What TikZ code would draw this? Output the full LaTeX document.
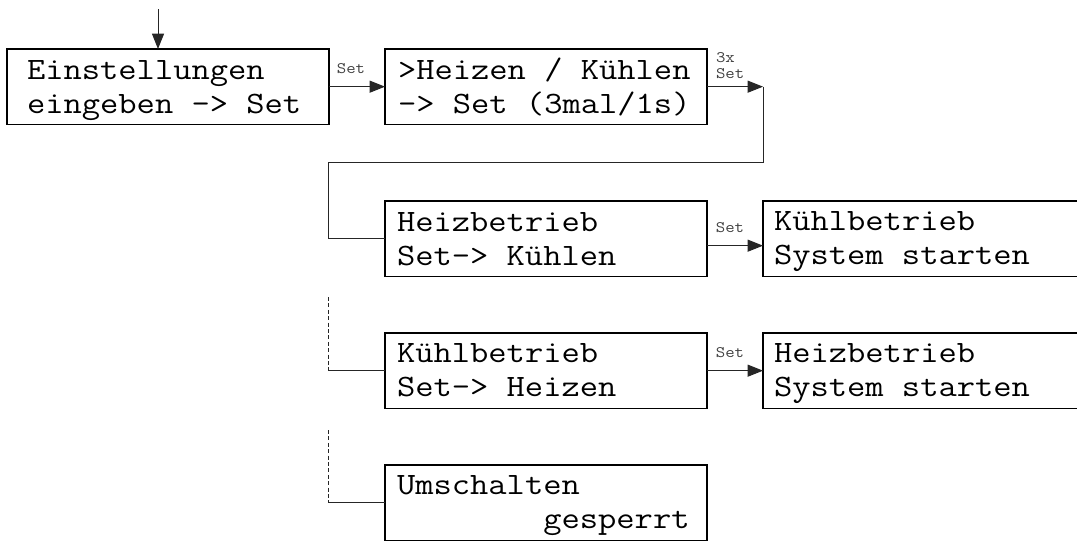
\documentclass[tikz,border=0pt]{standalone}
\usepackage{fontspec}
\setmonofont[FakeStretch=1.143]{Latin Modern Mono}
\usetikzlibrary{arrows.meta}
\tikzset{
  box/.style={draw=black, line width=0.8pt, inner sep=0pt, outer sep=0pt, anchor=north west,
    minimum width=241.5pt, minimum height=56.5pt},
  widebox/.style={box, minimum width=260pt},
  txt/.style={inner sep=0pt, outer sep=0pt, anchor=base west, align=left,
    font=\ttfamily\fontsize{23.3}{25.5}\selectfont},
  lbl/.style={inner sep=0pt, outer sep=0pt, text=black!75,
    font=\ttfamily\fontsize{12}{12}\selectfont},
  conn/.style={draw=black!85, line width=0.75pt},
  arr/.style={conn, -{Triangle[length=11.5pt,width=9pt]}},
  dconn/.style={conn, dash pattern=on 3pt off 1.8pt},
}
\begin{document}
\begin{tikzpicture}[x=0.75pt,y=-0.75pt]
\useasboundingbox (0,0) rectangle (1077,540);
\clip (0,0) rectangle (1077,540);
% boxes
\node[box] (b1) at (7,49) {};
\node[box] (b2) at (385,49) {};
\node[box] (b3) at (385,201) {};
\node[widebox] (b4) at (763,201) {};
\node[box] (b5) at (385,333) {};
\node[widebox] (b6) at (763,333) {};
\node[box] (b7) at (385,465) {};
% texts (anchor = baseline of last line)
\node[txt] (t1) at (27,113) {Einstellungen\\eingeben -> Set};
\node[txt] (t2) at (398,113) {>Heizen / Kühlen\\-> Set (3mal/1s)};
\node[txt] (t3) at (397,265) {Heizbetrieb\\Set-> Kühlen};
\node[txt] (t4) at (774,264) {Kühlbetrieb\\System starten};
\node[txt] (t5) at (397,396) {Kühlbetrieb\\Set-> Heizen};
\node[txt] (t6) at (774,396) {Heizbetrieb\\System starten};
\node[txt] (t7) at (397,528) {Umschalten\\\hphantom{00000000}gesperrt};
% labels
\node[lbl, anchor=base] (l1) at (351,73) {Set};
\node[lbl, anchor=base west, align=left] (l2) at (716,78) {3x\\Set};
\node[lbl, anchor=base] (l3) at (730,232) {Set};
\node[lbl, anchor=base] (l4) at (730,357) {Set};
% connectors
\coordinate (s0) at (158,9);
\draw[arr] (s0) -- (s0 |- b1.north);
\draw[arr] (b1.east) -- (b2.west);
\coordinate (c1) at (763,87);
\coordinate (c2) at (763,162);
\coordinate (c3) at (328,162);
\draw[arr] (b2.east) -- (b2.east -| c1);
\draw[conn] (b2.east -| c1) -- (c2) -- (c3) -- (c3 |- b3.west) -- (b3.west);
\draw[arr] ([yshift=-5.25pt]b3.east) -- ([yshift=-5.25pt]b4.west);
\draw[arr] (b5.east) -- (b6.west);
\coordinate (d1) at (328,297);
\draw[dconn] (d1) -- (d1 |- b5.west);
\draw[conn] (d1 |- b5.west) -- (b5.west);
\coordinate (d2) at (328,430);
\draw[dconn] (d2) -- (d2 |- b7.west);
\draw[conn] (d2 |- b7.west) -- (b7.west);
\end{tikzpicture}
\end{document}
